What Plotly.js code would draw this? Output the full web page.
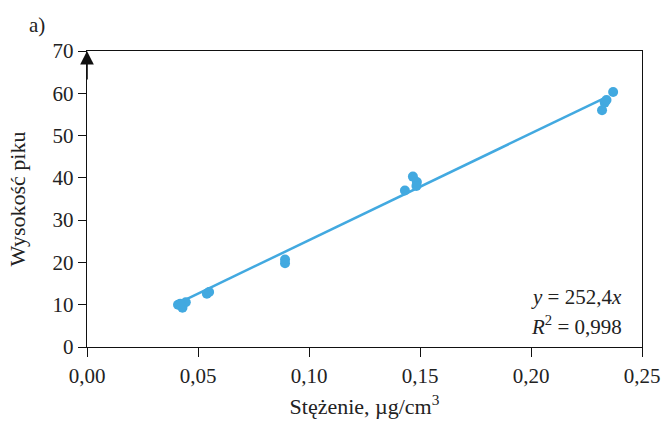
<!DOCTYPE html>
<html>
<head>
<meta charset="utf-8">
<script src="https://cdn.plot.ly/plotly-3.0.1.min.js"></script>
<style>html,body{margin:0;padding:0;background:#fff;}#chart{width:668px;height:426px;}</style>
</head>
<body>
<div id="chart"></div>
<script>
// Measured points (concentration µg/cm3, peak height)
const concentration = [0.041, 0.043, 0.0445, 0.042, 0.054, 0.055, 0.0892, 0.0892, 0.1432, 0.1468, 0.1486, 0.1484, 0.232, 0.2332, 0.234, 0.237];
const peakHeight    = [10.0, 9.3, 10.6, 10.2, 12.6, 13.0, 20.7, 19.8, 37.0, 40.3, 39.0, 38.1, 56.0, 57.8, 58.4, 60.3];
// Trend line as drawn (y = 252,4x)
const trendX = [0.040, 0.234];
const trendY = [10.1, 59.1];
const xTicks = [0, 0.05, 0.10, 0.15, 0.20, 0.25];
const xTickLabels = ['0,00', '0,05', '0,10', '0,15', '0,20', '0,25'];
const yTicks = [0, 10, 20, 30, 40, 50, 60, 70];

const blue = '#42A9E0';
const font = {family: '"Liberation Serif", "DejaVu Serif", serif', color: '#222', size: 21};
const titleFont = {family: '"Liberation Serif", "DejaVu Serif", serif', color: '#222', size: 22};

const data = [
  {x: trendX, y: trendY, type: 'scatter', mode: 'lines', line: {color: blue, width: 2.5}, hoverinfo: 'skip'},
  {x: concentration, y: peakHeight, type: 'scatter', mode: 'markers', marker: {color: blue, size: 10}}
];

const layout = {
  width: 668, height: 426,
  margin: {l: 87, r: 26, t: 51, b: 79},
  paper_bgcolor: '#fff', plot_bgcolor: '#fff',
  showlegend: false,
  font: font,
  xaxis: {
    range: [0, 0.25], tickvals: xTicks, ticktext: xTickLabels,
    showgrid: false, zeroline: false, showline: true, mirror: true,
    linecolor: '#111', linewidth: 1.3, ticks: 'outside', ticklen: 9, tickcolor: '#111', tickwidth: 1,
    tickfont: font,
    title: {text: 'Stężenie, µg/cm<sup>3</sup>', font: titleFont, standoff: 12}
  },
  yaxis: {
    range: [0, 70], tickvals: yTicks,
    showgrid: false, zeroline: false, showline: true, mirror: true,
    linecolor: '#111', linewidth: 1.3, ticks: 'outside', ticklen: 8, tickcolor: '#111', tickwidth: 1,
    tickfont: font,
    title: {text: 'Wysokość piku', font: titleFont, standoff: 20}
  },
  annotations: [
    {xref: 'x', yref: 'y', x: 0, y: 70, ax: 0, ay: 30, axref: 'pixel', ayref: 'pixel',
     showarrow: true, arrowhead: 2, arrowsize: 1.7, arrowwidth: 1.6, arrowcolor: '#111', text: '', standoff: 0},
    {xref: 'paper', yref: 'paper', x: 0.968, y: 0.169, xanchor: 'right', yanchor: 'middle', showarrow: false,
     text: '<i>y</i> = 252,4<i>x</i>', font: font},
    {xref: 'paper', yref: 'paper', x: 0.968, y: 0.074, xanchor: 'right', yanchor: 'middle', showarrow: false,
     text: '<i>R</i><sup>2</sup> = 0,998', font: font},
    {xref: 'paper', yref: 'paper', x: -0.108, y: 1.088, xanchor: 'left', yanchor: 'middle', showarrow: false,
     text: 'a)', font: font}
  ]
};

Plotly.newPlot('chart', data, layout, {staticPlot: true, displayModeBar: false});
</script>
</body>
</html>
